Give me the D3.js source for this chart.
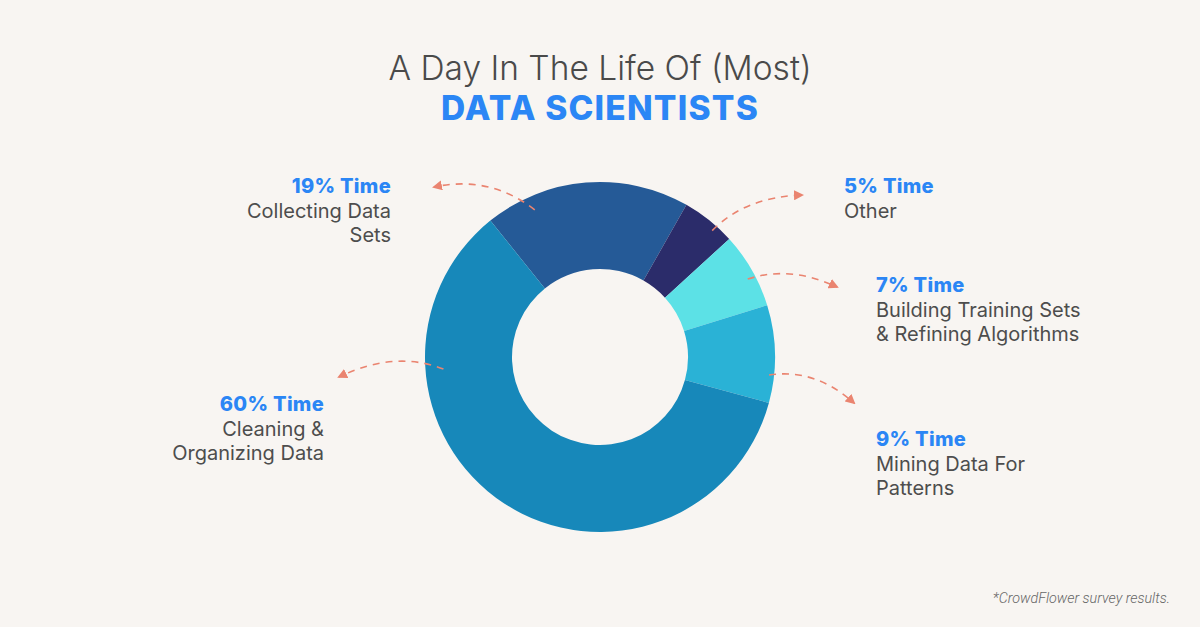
<!DOCTYPE html>
<html><head><meta charset="utf-8">
<script src="https://cdn.jsdelivr.net/npm/d3@7"></script>
<style>
html,body{margin:0;padding:0;background:#f8f5f2;}
svg{display:block;}
</style></head>
<body>
<svg id="chart" width="1200" height="627"></svg>
<script>
// ---- data ----
const categories = ["Collecting Data Sets", "Other", "Building Training Sets & Refining Algorithms", "Mining Data For Patterns", "Cleaning & Organizing Data"];
const values = [19, 5, 7, 9, 60];
const headlines = ["19% Time", "5% Time", "7% Time", "9% Time", "60% Time"];
const labelLines = [["Collecting Data", "Sets"], ["Other"], ["Building Training Sets", "& Refining Algorithms"], ["Mining Data For", "Patterns"], ["Cleaning &", "Organizing Data"]];
const colors = ["#255a97", "#2b2c6a", "#5ce1e6", "#2ab2d6", "#1788ba"];

// ---- layout ----
const W = 1200, H = 627;
const cx = 600, cy = 357, R = 175, r0 = 88;
const startDeg = -38.8;
const labelPos = [
  {x: 391, y: 193, anchor: "end"},
  {x: 844, y: 193, anchor: "start"},
  {x: 876, y: 292, anchor: "start"},
  {x: 876, y: 446, anchor: "start"},
  {x: 324, y: 411, anchor: "end"}
];
// arrow: start angle (deg) & radius on the ring, control & end relative to centre
const arrows = [
  {a: -23.9, rr: 161, c: [-110, -182], e: [-166, -170]},
  {a: 41.6, rr: 169, c: [145, -160], e: [202, -162]},
  {a: 62.2, rr: 167, c: [190, -92], e: [237, -70]},
  {a: 96.1, rr: 170, c: [215, 11], e: [254, 46]},
  {a: -94.4, rr: 157, c: [-205, -7], e: [-261, 20]}
];

const svg = d3.select("#chart");
svg.append("rect").attr("width", W).attr("height", H).attr("fill", "#f8f5f2");

// title
svg.append("text").attr("x", 600).attr("y", 80).attr("text-anchor", "middle")
  .attr("font-family", "Inter, 'Open Sans', sans-serif").attr("font-weight", 300)
  .attr("font-size", 33.5).attr("fill", "#4a4a4a").text("A Day In The Life Of (Most)");
svg.append("text").attr("x", 600).attr("y", 120).attr("text-anchor", "middle")
  .attr("font-family", "Inter, 'Open Sans', sans-serif").attr("font-weight", 800)
  .attr("font-size", 33.5).attr("fill", "#2b86f5").attr("letter-spacing", 1.2).text("DATA SCIENTISTS");

// donut
const pie = d3.pie().sort(null).value(d => d)
  .startAngle(startDeg * Math.PI / 180).endAngle((startDeg + 360) * Math.PI / 180);
const arc = d3.arc().innerRadius(r0).outerRadius(R);
const g = svg.append("g").attr("transform", `translate(${cx},${cy})`);
g.selectAll("path").data(pie(values)).join("path")
  .attr("d", arc).attr("fill", (d, i) => colors[i]);

// arrows
const defs = svg.append("defs");
defs.append("marker").attr("id", "ah").attr("viewBox", "0 0 10 10")
  .attr("refX", 8).attr("refY", 5).attr("markerWidth", 10).attr("markerHeight", 10)
  .attr("markerUnits", "userSpaceOnUse").attr("orient", "auto")
  .append("path").attr("d", "M0,0 L10,5 L0,10 Z").attr("fill", "#ea8470");

arrows.forEach(a => {
  const rad = a.a * Math.PI / 180;
  const sx = Math.sin(rad) * a.rr, sy = -Math.cos(rad) * a.rr;
  const p = d3.path();
  p.moveTo(sx, sy);
  p.quadraticCurveTo(a.c[0], a.c[1], a.e[0], a.e[1]);
  g.append("path").attr("d", p.toString()).attr("fill", "none")
    .attr("stroke", "#ea8470").attr("stroke-width", 1.6)
    .attr("stroke-dasharray", "7,6").attr("marker-end", "url(#ah)");
});

// labels
labelPos.forEach((lp, i) => {
  const t = svg.append("g");
  t.append("text").attr("x", lp.x).attr("y", lp.y).attr("text-anchor", lp.anchor)
    .attr("font-family", "Inter, 'Open Sans', sans-serif").attr("font-weight", 800)
    .attr("font-size", 20).attr("letter-spacing", 0.3).attr("fill", "#2b86f5").text(headlines[i]);
  labelLines[i].forEach((ln, j) => {
    t.append("text").attr("x", lp.x).attr("y", lp.y + 24.5 * (j + 1)).attr("text-anchor", lp.anchor)
      .attr("font-family", "Inter, 'Open Sans', sans-serif").attr("font-weight", 400)
      .attr("font-size", 20).attr("fill", "#4d4d4d").text(ln);
  });
});

// footnote
svg.append("text").attr("x", 1170).attr("y", 603).attr("text-anchor", "end")
  .attr("font-family", "Roboto, sans-serif").attr("font-style", "italic").attr("font-weight", 300)
  .attr("font-size", 14.3).attr("fill", "#666").text("*CrowdFlower survey results.");
</script>
</body></html>
